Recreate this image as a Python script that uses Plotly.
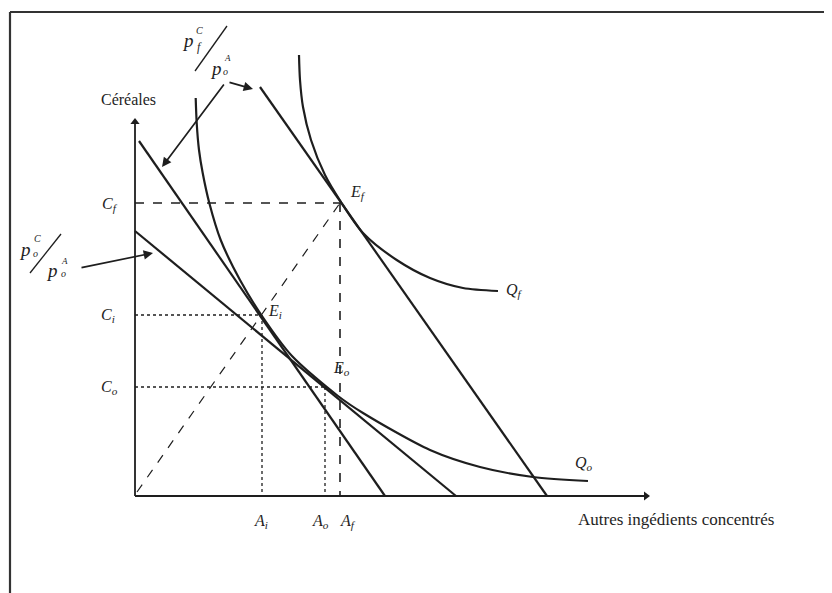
import plotly.graph_objects as go

# ---- data (diagram units: origin at the axes corner) ----
qo_x = [6.07, 6.17, 6.4, 6.77, 7.43, 8.57, 10.5, 12.7, 15.7, 20.3, 22.8, 29.5, 34.5, 39.8, 45.3]
qo_y = [39.8, 37.3, 34.6, 32.3, 29.3, 25.6, 21.6, 18.0, 14.0, 10.0, 8.3, 4.6, 2.9, 1.9, 1.5]

qf_x = [16.4, 16.5, 16.8, 17.6, 19.0, 20.6, 22.8, 26.17, 29.5, 32.8, 36.3]
qf_y = [44.1, 41.6, 38.9, 35.6, 32.1, 29.4, 26.3, 23.6, 21.8, 20.8, 20.5]

iso1_x = [0.4, 25.0]    # pf^C / po^A, tangent at Ei
iso1_y = [35.5, 0.0]
iso2_x = [0.0, 32.1]    # po^C / po^A, tangent at Eo
iso2_y = [26.5, 0.0]
iso3_x = [12.5, 41.2]   # pf^C / po^A, tangent at Ef
iso3_y = [40.9, 0.0]

path_x = [0.2, 20.5]    # expansion path (origin -> Ef)
path_y = [0.4, 29.3]

A_vals = {"i": 12.7, "o": 19.0, "f": 20.5}
C_vals = {"i": 18.1, "o": 10.9, "f": 29.3}

x_axis_end = 51.1
y_axis_end = 37.4

# ---- helpers for placing text (pixel-like positions -> diagram units) ----
def P(px, py):
    return (px - 135) / 10.0, (496 - py) / 10.0

INK = "#1e1e1e"
SERIF = "Liberation Serif"

fig = go.Figure()

def line(xs, ys, width=2.0, dash="solid", shape="linear"):
    fig.add_trace(go.Scatter(x=xs, y=ys, mode="lines",
                             line=dict(color=INK, width=width, dash=dash, shape=shape,
                                       **({"smoothing": 0.8} if shape == "spline" else {})),
                             hoverinfo="skip", showlegend=False))

# axes
line([0, 0], [0, y_axis_end], width=1.8)
line([0, x_axis_end], [0, 0], width=1.8)
fig.add_trace(go.Scatter(x=[0], y=[y_axis_end], mode="markers",
                         marker=dict(symbol="triangle-up", size=8, color=INK),
                         hoverinfo="skip", showlegend=False))
fig.add_trace(go.Scatter(x=[x_axis_end], y=[0], mode="markers",
                         marker=dict(symbol="triangle-right", size=8, color=INK),
                         hoverinfo="skip", showlegend=False))

# reference lines
line([0, A_vals["f"]], [C_vals["f"], C_vals["f"]], width=1.3, dash="dash")
line([A_vals["f"], A_vals["f"]], [C_vals["f"], 0], width=1.6, dash="dash")
line([0, A_vals["i"]], [C_vals["i"], C_vals["i"]], width=1.3, dash="dot")
line([A_vals["i"], A_vals["i"]], [C_vals["i"], 0], width=1.3, dash="dot")
line([0, A_vals["o"]], [C_vals["o"], C_vals["o"]], width=1.3, dash="dot")
line([A_vals["o"], A_vals["o"]], [C_vals["o"], 0], width=1.3, dash="dot")
line(path_x, path_y, width=1.2, dash="dash")

# isocost lines
line(iso1_x, iso1_y, width=2.2)
line(iso2_x, iso2_y, width=2.2)
line(iso3_x, iso3_y, width=2.2)

# isoquants
line(qo_x, qo_y, width=2.2, shape="spline")
line(qf_x, qf_y, width=2.2, shape="spline")

ann = []
def text(px, py, s, size=16, italic=True):
    x, y = P(px, py)
    ann.append(dict(x=x, y=y, xref="x", yref="y", text=("<i>%s</i>" % s) if italic else s,
                    showarrow=False, font=dict(family=SERIF, size=size, color=INK)))

def arrow(px0, py0, px1, py1):
    x0, y0 = P(px0, py0)
    x1, y1 = P(px1, py1)
    ann.append(dict(x=x1, y=y1, ax=x0, ay=y0, xref="x", yref="y", axref="x", ayref="y",
                    text="", showarrow=True, arrowhead=2, arrowsize=1.1, arrowwidth=1.7,
                    arrowcolor=INK))

text(128, 99, "Céréales", size=16, italic=False)
text(676, 519, "Autres ingédients concentrés", size=17, italic=False)

text(110, 204, "C<sub>f</sub>")
text(108, 315, "C<sub>i</sub>")
text(109, 387, "C<sub>o</sub>")
text(261, 521, "A<sub>i</sub>")
text(320, 521, "A<sub>o</sub>")
text(348, 521, "A<sub>f</sub>")

text(358, 192, "E<sub>f</sub>")
text(275, 311, "E<sub>i</sub>")
text(341, 368, "E<sub>o</sub>")
text(514, 290, "Q<sub>f</sub>")
text(584, 463, "Q<sub>o</sub>")

# top fraction pf^C / po^A
text(188, 40, "p", size=19)
text(199, 30, "C", size=10)
text(199, 47, "f", size=12)
text(216, 68, "p", size=19)
text(227, 58, "A", size=9)
text(225, 71, "o", size=10)
# left fraction po^C / po^A
text(25, 249, "p", size=19)
text(37, 238, "C", size=10)
text(35, 253, "o", size=10)
text(52, 270, "p", size=19)
text(64, 261, "A", size=9)
text(63, 273, "o", size=10)

arrow(225, 83, 162, 167)
arrow(228, 82, 253, 89)
arrow(80, 268, 153, 253)

shapes = []
def seg(px0, py0, px1, py1, w=1.2, color=INK):
    x0, y0 = P(px0, py0)
    x1, y1 = P(px1, py1)
    shapes.append(dict(type="line", x0=x0, y0=y0, x1=x1, y1=y1, xref="x", yref="y",
                       line=dict(color=color, width=w)))

seg(195, 71, 227, 26, w=1.3)
seg(30, 273, 61, 234, w=1.3)

# outer frame (scanned box)
seg(10, 12, 828, 12, w=2.2, color="#333")
seg(10, 12, 10, 600, w=2.2, color="#333")

# the page adds an 8px body margin, so the visible area starts at (8, 8)
x_lo, _ = P(8, 0)
x_hi, _ = P(840, 0)
_, y_hi = P(0, 8)
_, y_lo = P(0, 601)

fig.update_layout(
    width=832, height=593,
    margin=dict(l=0, r=0, t=0, b=0),
    paper_bgcolor="white", plot_bgcolor="white",
    xaxis=dict(range=[x_lo, x_hi], visible=False, fixedrange=True),
    yaxis=dict(range=[y_lo, y_hi], visible=False, fixedrange=True),
    annotations=ann, shapes=shapes, showlegend=False,
)

fig.write_html("out.html")
